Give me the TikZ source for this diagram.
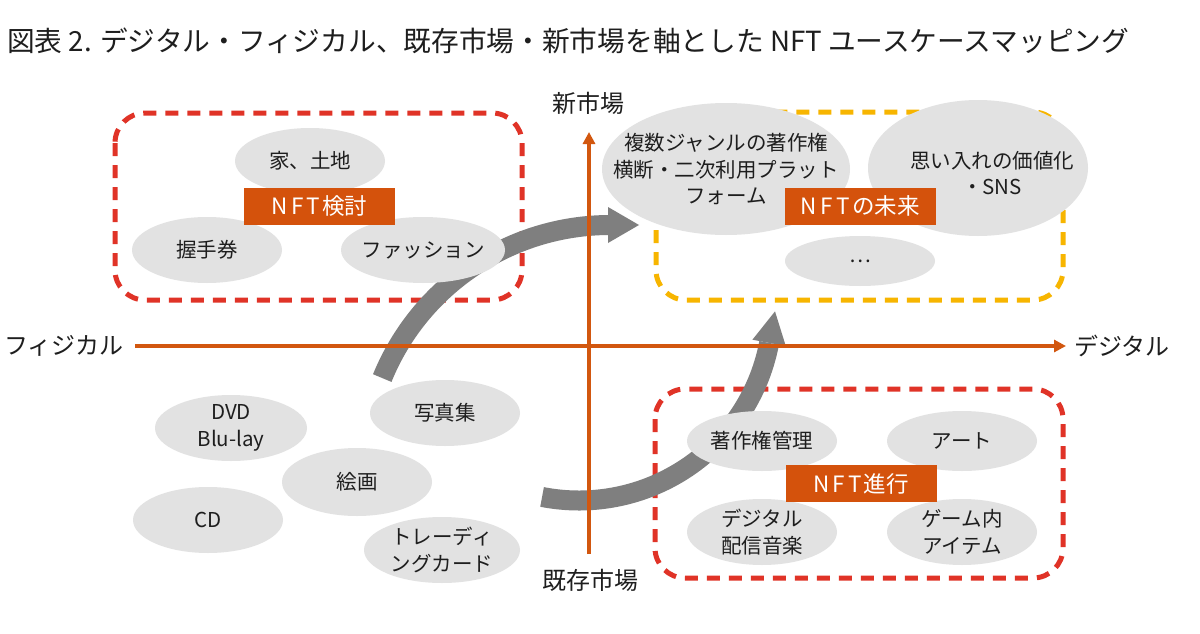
\documentclass[tikz,border=0pt]{standalone}
\usepackage{fontspec}
\setmainfont{Noto Sans CJK JP}
\usetikzlibrary{arrows.meta}
\definecolor{axisc}{HTML}{D2570F}
\definecolor{redd}{HTML}{E03327}
\definecolor{yeld}{HTML}{F7B500}
\definecolor{ellc}{HTML}{E2E2E2}
\definecolor{labc}{HTML}{D4520C}
\definecolor{arrc}{HTML}{7F7F7F}
\definecolor{txt}{HTML}{1E1E1E}
\newcommand{\ellnode}[6]{\fill[ellc] (#2,#3) ellipse [x radius=#4, y radius=#5];
  \node[etext] (#1) at (#2,#3) {#6};}
\begin{document}
\begin{tikzpicture}[x=1pt,y=-1pt,
  dbox/.style={line width=5pt, dash pattern=on 13pt off 9pt, rounded corners=30pt},
  etext/.style={align=center, text=txt, inner sep=0pt, font=\fontsize{20.5}{26.5}\selectfont},
  lab/.style={fill=labc, text=white, inner sep=0pt, minimum width=151pt, minimum height=37pt, font=\fontsize{22.5}{26}\selectfont},
  axis/.style={axisc, line width=3.5pt, -{Triangle[length=12pt,width=12pt]}},
  axlab/.style={text=txt, inner sep=0pt, font=\fontsize{24}{28}\selectfont},
  garc/.style={arrc, line width=20pt}]
\useasboundingbox (0,0) rectangle (1200,634);
\fill[white] (0,0) rectangle (1200,634);

% title
\node[anchor=west, inner sep=0pt, text=txt, font=\fontsize{27.7}{32}\selectfont] (title) at (7,41)
  {図表 2. デジタル・フィジカル、既存市場・新市場を軸とした NFT ユースケースマッピング};

% dashed boxes
\draw[dbox, redd] (115,113) rectangle (522,300);
\draw[dbox, yeld] (656,112) rectangle (1063,300);
\draw[dbox, redd] (655,389) rectangle (1063,578);

% gray arrows
\draw[garc] (610,471) ++(-157.8:246) coordinate (a1s) arc[start angle=-157.8, end angle=-90, radius=246] coordinate (a1e);
\fill[arrc] (608,207) -- (639,225) -- (608,243) -- cycle;
\draw[garc] (579,307) ++(101:193.5) coordinate (a2s) arc[start angle=101, end angle=10.7, radius=193.5] coordinate (a2e);
\fill[arrc] (752.4,339.7) -- (775.0,311.4) -- (785.8,346.1) -- cycle;

% axes
\coordinate (xl) at (135,346);
\coordinate (xr) at (1066,346);
\coordinate (yb) at (589,554);
\coordinate (yt) at (589,132);
\draw[axis] (xl) -- (xr);
\draw[axis] (yb) -- (yt);
\node[axlab, anchor=east] (lphys) at (124,346) {フィジカル};
\node[axlab, anchor=west] (ldig) at (1074,346) {デジタル};
\node[axlab] (lnew) at (588,103) {新市場};
\node[axlab] (lold) at (590,580) {既存市場};

% ellipses
\ellnode{house}{310}{161}{75}{33}{家、土地}
\ellnode{hand}{207}{250}{75}{33}{握手券}
\ellnode{fash}{423}{250}{82}{33}{ファッション}
\ellnode{plat}{726}{169}{124}{66}{複数ジャンルの著作権\\横断・二次利用プラット\\フォーム}
\fill[ellc] (978,168) ellipse [x radius=110, y radius=68];
\node[etext] (sns) at (992,173) {思い入れの価値化\\・SNS};
\ellnode{dots}{860}{261}{75}{25}{…}
\ellnode{copy}{762}{441}{75}{30}{著作権管理}
\ellnode{art}{962}{441}{75}{30}{アート}
\ellnode{dmus}{762}{532}{75}{33}{デジタル\\配信音楽}
\ellnode{game}{962}{532}{75}{33}{ゲーム内\\アイテム}
\ellnode{dvd}{231}{428}{76}{33}{DVD\\Blu-lay}
\ellnode{photo}{445}{413}{75}{33}{写真集}
\ellnode{paint}{357}{482}{75}{34}{絵画}
\ellnode{cd}{208}{520}{75}{33}{CD}
\ellnode{card}{442}{550}{78}{33}{トレーディ\\ングカード}

% labels
\node[lab] (l1) at (319.5,206.5) {N\kern3pt F\kern3pt T\kern2pt 検討};
\node[lab] (l2) at (860,206) {N\kern4pt F\kern4pt T\kern2pt の未来};
\node[lab] (l3) at (861,483.5) {N\kern3pt F\kern3pt T\kern2pt 進行};
\end{tikzpicture}
\end{document}
